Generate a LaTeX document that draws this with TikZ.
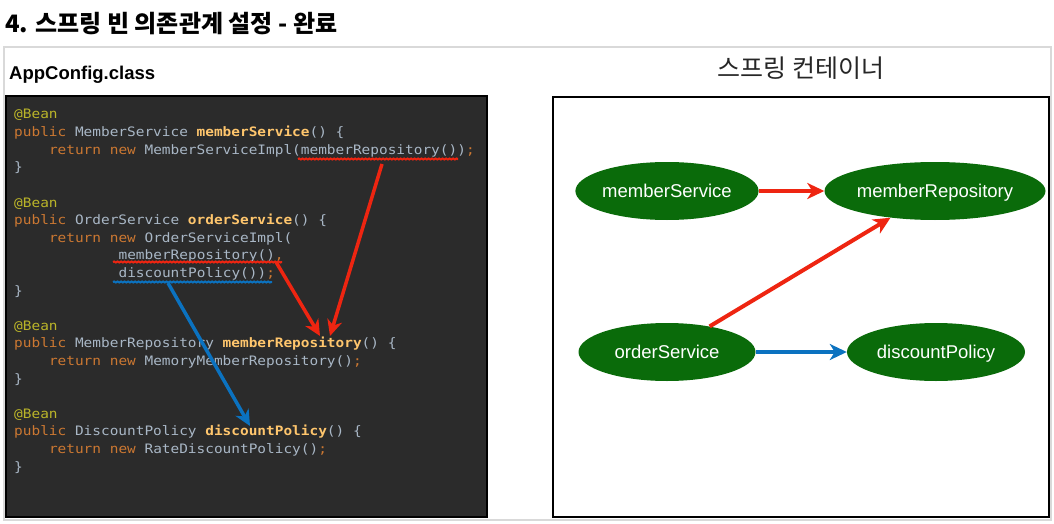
\documentclass[tikz,border=0pt]{standalone}
\usepackage{fontspec}
\setmainfont{Liberation Sans}
\newfontfamily\cjk{Noto Sans CJK KR}
\newfontfamily\codefont{DejaVu Sans Mono}[FakeStretch=1.11]
\usetikzlibrary{arrows.meta,decorations.pathmorphing,shapes.geometric}
\definecolor{framegray}{HTML}{D9D9D9}
\definecolor{codebg}{HTML}{2B2B2B}
\definecolor{codetxt}{HTML}{A9B7C6}
\definecolor{kwc}{HTML}{CC7832}
\definecolor{annc}{HTML}{BBB529}
\definecolor{methc}{HTML}{FFC66D}
\definecolor{beangreen}{HTML}{0A6B0A}
\definecolor{arrred}{HTML}{EE2511}
\definecolor{arrblue}{HTML}{0B72C0}
\newcommand\cK[1]{\textcolor{kwc}{#1}}
\newcommand\cA[1]{\textcolor{annc}{#1}}
\newcommand\cM[1]{\textcolor{methc}{\bfseries #1}}
\newcommand\cP[1]{\textcolor{kwc}{#1}}
\begin{document}
\begin{tikzpicture}[x=1pt,y=-1pt,
  codeline/.style={anchor=base west,inner sep=0pt,text=codetxt,font=\codefont\fontsize{13}{13}\selectfont},
  bean/.style={ellipse,fill=beangreen,text=white,inner sep=0pt,minimum width=177pt,minimum height=58pt,text height=13.4pt,text depth=0pt,font=\fontsize{18.5}{18.5}\selectfont},
  bigarrow/.style={line width=4pt,-{Stealth[length=17pt,width=16pt,inset=5pt]}},
  codearrow/.style={line width=3.5pt,-{Stealth[length=16pt,width=15pt,inset=5pt]}},
  wavy/.style={line width=2pt,decorate,decoration={snake,amplitude=0.5pt,segment length=3.5pt}}
]
\useasboundingbox (0,0) rectangle (1054,524);
\fill[white] (0,0) rectangle (1054,524);

% title
\node[anchor=base west,inner sep=0pt] (title) at (5,33)
  {\cjk\bfseries\fontsize{24}{24}\selectfont 4. 스프링 빈 의존관계 설정 - 완료};

% outer frame
\draw[framegray,line width=1.8pt] (4,47) rectangle (1051,520);

% left label
\node[anchor=base west,inner sep=0pt] (applabel) at (9,80)
  {\bfseries\fontsize{18.5}{18.5}\selectfont AppConfig.class};

% code panel
\draw[black,line width=2.5pt,fill=codebg] (6,96) rectangle (487,517);

\node[codeline] (l1) at (14,119) {\cA{@Bean}};
\node[codeline] (l2) at (14,136.6) {\cK{public} MemberService \cM{memberService}() \{};
\node[codeline] (l3) at (48.8,154.2) {\cK{return} \cK{new} MemberServiceImpl(memberRepository())\cP{;}};
\node[codeline] (l4) at (14,171.8) {\}};
\node[codeline] (l6) at (14,207) {\cA{@Bean}};
\node[codeline] (l7) at (14,224.6) {\cK{public} OrderService \cM{orderService}() \{};
\node[codeline] (l8) at (48.8,242.2) {\cK{return} \cK{new} OrderServiceImpl(};
\node[codeline] (l9) at (118.4,259.8) {memberRepository()\cP{,}};
\node[codeline] (l10) at (118.4,277.4) {discountPolicy())\cP{;}};
\node[codeline] (l11) at (14,295) {\}};
\node[codeline] (l13) at (14,330.2) {\cA{@Bean}};
\node[codeline] (l14) at (14,347.8) {\cK{public} MemberRepository \cM{memberRepository}() \{};
\node[codeline] (l15) at (48.8,365.4) {\cK{return} \cK{new} MemoryMemberRepository()\cP{;}};
\node[codeline] (l16) at (14,383) {\}};
\node[codeline] (l18) at (14,418.2) {\cA{@Bean}};
\node[codeline] (l19) at (14,435.8) {\cK{public} DiscountPolicy \cM{discountPolicy}() \{};
\node[codeline] (l20) at (48.8,453.4) {\cK{return} \cK{new} RateDiscountPolicy()\cP{;}};
\node[codeline] (l21) at (14,471) {\}};

% underlines
\coordinate (ua1) at (298,159);  \coordinate (ub1) at (458,159);
\coordinate (ua2) at (113,262);  \coordinate (ub2) at (282,262);
\coordinate (ua3) at (113,282);  \coordinate (ub3) at (272,282);
\draw[arrred,wavy] (ua1) -- (ub1);
\draw[arrred,wavy] (ua2) -- (ub2);
\draw[arrblue,wavy] (ua3) -- (ub3);

% code arrows
\coordinate (s1) at (382,164);  \coordinate (t1) at (330,336);
\coordinate (s2) at (276,262);  \coordinate (t2) at (320,336);
\coordinate (s3) at (168,283);  \coordinate (t3) at (250,426);
\draw[arrred,codearrow] (s1) -- (t1);
\draw[arrred,codearrow] (s2) -- (t2);
\draw[arrblue,codearrow] (s3) -- (t3);

% container
\node[anchor=base,inner sep=0pt,text=black!85] (ctitle) at (801,77.5)
  {\cjk\fontsize{25}{25}\selectfont 스프링 컨테이너};
\draw[black,line width=2.5pt] (553,97) rectangle (1049,517);

\node[bean] (ms) at (667,191) {memberService};
\node[bean,minimum width=206pt] (mr) at (935,191) {memberRepository};
\node[bean] (os) at (667,352) {orderService};
\node[bean,minimum width=178pt] (dp) at (936,352) {discountPolicy};

\draw[arrred,bigarrow] (ms) -- (mr);
\draw[arrred,bigarrow] (os) -- (mr);
\draw[arrblue,bigarrow] (os) -- (dp);
\end{tikzpicture}
\end{document}
